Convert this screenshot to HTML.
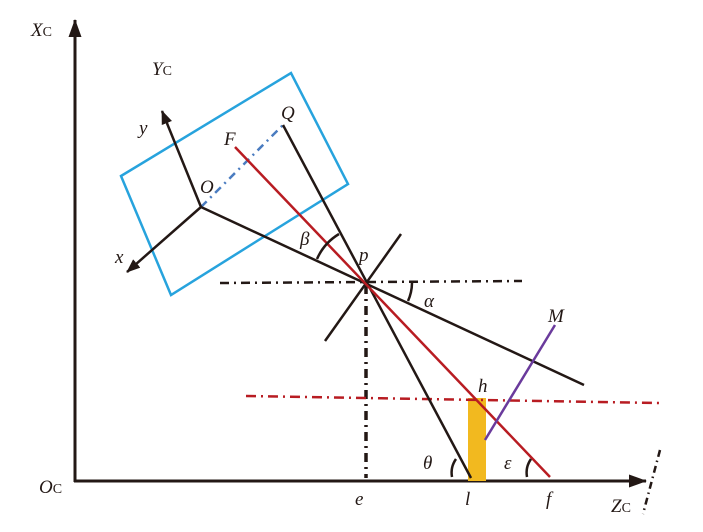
<!DOCTYPE html>
<html><head><meta charset="utf-8"><style>
html,body{margin:0;padding:0;background:#fff;}
svg{display:block;}
text{font-family:"Liberation Serif",serif;font-style:italic;font-size:19px;fill:#231815;}
.up{font-style:normal;font-size:14px;}
</style></head><body>
<svg width="703" height="532" viewBox="0 0 703 532" xmlns="http://www.w3.org/2000/svg">
<defs>
<marker id="ah" markerWidth="14" markerHeight="11" refX="13" refY="5.5" orient="auto" markerUnits="userSpaceOnUse">
<path d="M0,0 L14,5.5 L0,11 z" fill="#231815"/></marker>
<marker id="ah2" markerWidth="18" markerHeight="13" refX="17" refY="6.5" orient="auto" markerUnits="userSpaceOnUse">
<path d="M0,0 L18,6.5 L0,13 z" fill="#231815"/></marker>
</defs>
<line x1="75" y1="482" x2="75" y2="20" stroke="#231815" stroke-width="3" marker-end="url(#ah2)"/>
<line x1="74" y1="481" x2="646" y2="481" stroke="#231815" stroke-width="3" marker-end="url(#ah2)"/>
<line x1="660" y1="450" x2="643" y2="514" stroke="#231815" stroke-width="2.5" stroke-dasharray="7,4,1.5,4"/>
<polygon points="121,176 291,73 348,184 171,295" fill="none" stroke="#27a3dd" stroke-width="2.5"/>
<rect x="468" y="398" width="18" height="83" fill="#f2b91f"/>
<line x1="220" y1="283" x2="522" y2="281" stroke="#231815" stroke-width="2.5" stroke-dasharray="9,5,2,5"/>
<line x1="366" y1="285" x2="366" y2="478" stroke="#231815" stroke-width="3.5" stroke-dasharray="9,5,2,5"/>
<line x1="246" y1="396" x2="660" y2="403" stroke="#b81c22" stroke-width="2.5" stroke-dasharray="10,5,2,5"/>
<line x1="201" y1="207" x2="283" y2="125" stroke="#4a7cc0" stroke-width="2.5" stroke-dasharray="8,5,2,5"/>
<line x1="201" y1="207" x2="162" y2="111" stroke="#231815" stroke-width="2.5" marker-end="url(#ah)"/>
<line x1="201" y1="207" x2="127" y2="272" stroke="#231815" stroke-width="2.5" marker-end="url(#ah)"/>
<line x1="201" y1="207" x2="584" y2="385" stroke="#231815" stroke-width="2.5"/>
<line x1="283" y1="125" x2="471" y2="478" stroke="#231815" stroke-width="2.5"/>
<line x1="401" y1="234" x2="325" y2="341" stroke="#231815" stroke-width="2.5"/>
<line x1="235" y1="147" x2="550" y2="477" stroke="#b81c22" stroke-width="2.5"/>
<line x1="485" y1="440" x2="555" y2="325" stroke="#6a3a9c" stroke-width="2.5"/>
<path d="M317,259 A55,55 0 0 1 339,234" fill="none" stroke="#231815" stroke-width="2.5"/>
<path d="M412,283 A45,45 0 0 1 408,301" fill="none" stroke="#231815" stroke-width="2.5"/>
<path d="M456,459 A24,24 0 0 0 452,477" fill="none" stroke="#231815" stroke-width="2.5"/>
<path d="M531,459 A24,24 0 0 0 527,477" fill="none" stroke="#231815" stroke-width="2.5"/>
<text x="31" y="36">X<tspan class="up">C</tspan></text>
<text x="152" y="75">Y<tspan class="up">C</tspan></text>
<text x="39" y="493">O<tspan class="up">C</tspan></text>
<text x="611" y="512">Z<tspan class="up">C</tspan></text>
<text x="139" y="134">y</text>
<text x="115" y="263">x</text>
<text x="200" y="193">O</text>
<text x="281" y="119">Q</text>
<text x="224" y="145">F</text>
<text x="300" y="245">β</text>
<text x="359" y="261">p</text>
<text x="424" y="307">α</text>
<text x="548" y="322">M</text>
<text x="478" y="392">h</text>
<text x="423" y="469">θ</text>
<text x="504" y="469">ε</text>
<text x="355" y="505">e</text>
<text x="465" y="505">l</text>
<text x="546" y="505">f</text>
</svg>
</body></html>
